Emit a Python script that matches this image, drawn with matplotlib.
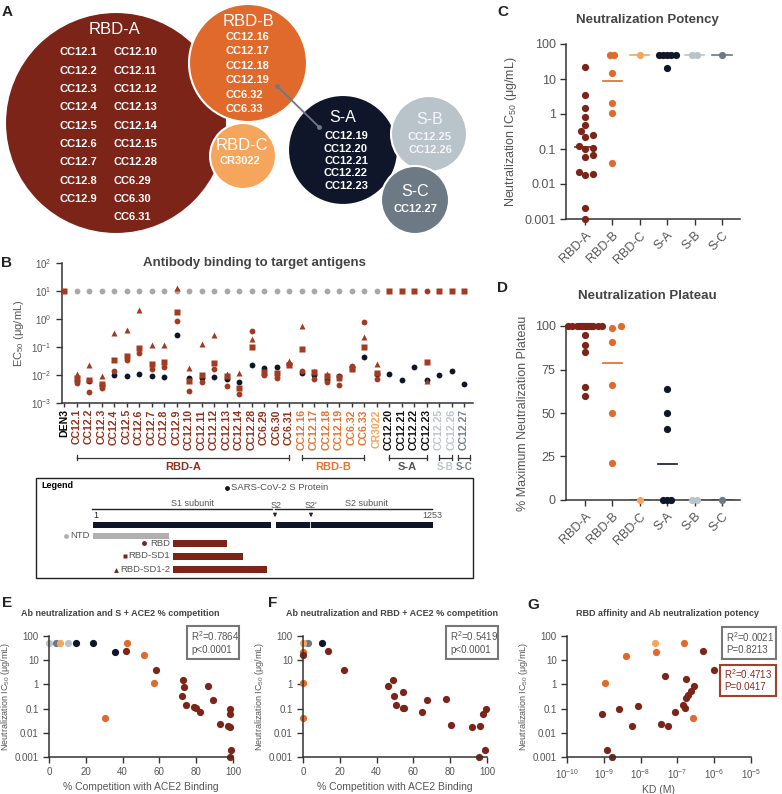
import numpy as np
import matplotlib
matplotlib.use('Agg')
import matplotlib.pyplot as plt
from matplotlib.patches import Circle, Rectangle
from matplotlib.ticker import FixedLocator, NullLocator
from matplotlib.transforms import blended_transform_factory

plt.rcParams['font.family'] = ['Liberation Sans', 'DejaVu Sans']
plt.rcParams['mathtext.fontset'] = 'custom'
plt.rcParams['mathtext.rm'] = 'Liberation Sans'
plt.rcParams['mathtext.it'] = 'Liberation Sans:italic'
plt.rcParams['mathtext.bf'] = 'Liberation Sans:bold'

W, H = 782, 794

# colours
c_rbda = '#7b2417'
c_rbdb = '#df6a2b'
c_rbdc = '#f5a65c'
c_sa = '#10162a'
c_sb = '#b9c3ca'
c_sc = '#6d7984'
c_ntd = '#a8a8a8'
c_red = '#a33a22'
grey_txt = '#555555'
title_col = '#444444'

# ---------------- data ----------------
# panel A: epitope bins
a_rbda = ['CC12.1', 'CC12.2', 'CC12.3', 'CC12.4', 'CC12.5', 'CC12.6', 'CC12.7', 'CC12.8', 'CC12.9',
          'CC12.10', 'CC12.11', 'CC12.12', 'CC12.13', 'CC12.14', 'CC12.15', 'CC12.28', 'CC6.29', 'CC6.30', 'CC6.31']
a_rbdb = ['CC12.16', 'CC12.17', 'CC12.18', 'CC12.19', 'CC6.32', 'CC6.33']
a_rbdc = ['CR3022']
a_sa = ['CC12.19', 'CC12.20', 'CC12.21', 'CC12.22', 'CC12.23']
a_sb = ['CC12.25', 'CC12.26']
a_sc = ['CC12.27']

# panel B: EC50 (ug/mL)
b_labels = ['DEN3', 'CC12.1', 'CC12.2', 'CC12.3', 'CC12.4', 'CC12.5', 'CC12.6', 'CC12.7', 'CC12.8',
            'CC12.9', 'CC12.10', 'CC12.11', 'CC12.12', 'CC12.13', 'CC12.14', 'CC12.28', 'CC6.29',
            'CC6.30', 'CC6.31', 'CC12.16', 'CC12.17', 'CC12.18', 'CC12.19', 'CC6.32', 'CC6.33',
            'CR3022', 'CC12.20', 'CC12.21', 'CC12.22', 'CC12.23', 'CC12.25', 'CC12.26', 'CC12.27']
b_groups = ['ctrl'] + ['RBD-A'] * 18 + ['RBD-B'] * 6 + ['RBD-C'] + ['S-A'] * 4 + ['S-B'] * 2 + ['S-C']
nan = np.nan
b_spike = [nan, 0.0063, 0.0062, 0.0045, 0.0098, 0.0095, 0.011, 0.0089, 0.0085, 0.27, 0.0076, 0.008,
           0.0083, 0.007, 0.0055, 0.023, 0.018, 0.02, 0.024, 0.0115, 0.01, 0.0066, 0.0091, 0.019,
           0.045, 0.011, 0.0105, 0.0066, 0.0186, 0.0066, 0.0098, 0.014, 0.0047]
b_rbd = [nan, 0.005, 0.0025, 0.0035, 0.014, 0.035, 0.059, 0.017, 0.02, 0.85, 0.0026, 0.0054, 0.017,
         0.0042, 0.0021, 0.37, 0.01, 0.0076, 0.025, 0.014, 0.0072, 0.0054, 0.0044, 0.021, 0.78,
         0.0072, nan, nan, nan, 10, nan, nan, nan]
b_sd1 = [10, 0.008, 0.0066, 0.0047, 0.035, 0.048, 0.089, 0.024, 0.028, 1.8, 0.0062, 0.01, 0.026,
         0.0095, 0.0035, 0.1, 0.013, 0.0115, 0.022, 0.085, 0.013, 0.0095, 0.0087, 0.017, 0.1,
         0.012, 10, 10, 10, 0.029, 10, 10, 10]
b_sd12 = [nan, 0.0105, 0.023, 0.0095, 0.32, 0.4, 2.1, 0.12, 0.115, 12.6, 0.018, 0.126, 0.275,
          0.011, 0.012, 0.19, 0.0126, 0.01, 0.032, 0.56, 0.014, 0.011, 0.008, 0.019, 0.22,
          0.025, nan, nan, nan, 0.0062, nan, nan, nan]
b_ntd = [nan] + [10] * 25 + [nan] * 7

# panels C/D
groups = ['RBD-A', 'RBD-B', 'RBD-C', 'S-A', 'S-B', 'S-C']
c_ic50 = {
    'RBD-A': [22, 3.5, 1.45, 0.8, 0.49, 0.32, 0.25, 0.22, 0.12, 0.11, 0.1, 0.068, 0.06,
              0.022, 0.019, 0.018, 0.002, 0.001],
    'RBD-B': [50, 50, 15, 2.0, 1.05, 0.039],
    'RBD-C': [50],
    'S-A': [50, 50, 50, 50, 50, 21],
    'S-B': [50, 50],
    'S-C': [50],
}
d_plateau = {
    'RBD-A': [100] * 13 + [95, 89, 85, 65, 60],
    'RBD-B': [99, 100, 91, 66, 50, 21],
    'RBD-C': [0],
    'S-A': [64, 50, 41, 0, 0, 0],
    'S-B': [0, 0],
    'S-C': [0],
}
group_col = {'ctrl': 'black', 'RBD-A': c_rbda, 'RBD-B': c_rbdb, 'RBD-C': c_rbdc,
             'S-A': c_sa, 'S-B': c_sb, 'S-C': c_sc}
tick_col = {'ctrl': 'black', 'RBD-A': '#92301c', 'RBD-B': '#e8722e', 'RBD-C': '#f6a35a',
            'S-A': '#111111', 'S-B': '#bcc4cc', 'S-C': '#74808a'}

# panel E: % competition (S + ACE2) vs IC50
e_x = {'S-B': [0, 10.3], 'S-C': [4], 'RBD-C': [6], 'S-A': [14.9, 23.9, 35.7],
       'RBD-B': [42.6, 51.6, 57.2, 30.3],
       'RBD-A': [42, 58, 72.8, 73.2, 72.5, 74.6, 78.6, 79.7, 81.9, 86.6, 89.1, 93.1, 98.2, 98.2,
                 97.3, 98.6, 99.1, 98.2]}
e_y = {'S-B': [50, 50], 'S-C': [50], 'RBD-C': [50], 'S-A': [50, 50, 22],
       'RBD-B': [50, 17, 1.15, 0.042],
       'RBD-A': [23, 4.0, 1.5, 0.8, 0.33, 0.14, 0.12, 0.11, 0.07, 0.85, 0.23, 0.024, 0.1, 0.06,
                 0.019, 0.018, 0.002, 0.001]}

# panel F: % competition (RBD + ACE2) vs IC50
f_x = {'S-B': [1.8], 'S-C': [2.7], 'S-A': [10.4], 'RBD-C': [0], 'RBD-B': [0, 0, 0],
       'RBD-A': [0, 13.6, 22.4, 46, 49.1, 49.5, 50.4, 54.2, 54.2, 55.1, 64.5, 67.6, 77.5, 80.7,
                 92, 96, 97.8, 99.5, 98.7, 95.5]}
f_y = {'S-B': [50], 'S-C': [50], 'S-A': [50], 'RBD-C': [50], 'RBD-B': [22, 1.1, 0.04],
       'RBD-A': [16, 23, 3.8, 0.85, 1.5, 0.33, 0.14, 0.5, 0.11, 0.105, 0.07, 0.23, 0.26, 0.022,
                 0.018, 0.019, 0.06, 0.1, 0.002, 0.001]}

# panel G: KD vs IC50
g_x = {'RBD-C': [2.45e-8], 'RBD-B': [1.55e-7, 2.7e-8, 3.9e-9, 1.1e-9, 2.6e-7],
       'RBD-A': [4.9e-7, 9.8e-7, 4.5e-8, 1.7e-7, 2.75e-7, 2.4e-7, 2.0e-7, 1.75e-7, 1.4e-7,
                 1.65e-7, 8.5e-9, 2.6e-9, 8.9e-10, 8.5e-8, 3.5e-8, 5.4e-8, 6.0e-9, 1.2e-9, 1.7e-9]}
g_y = {'RBD-C': [50], 'RBD-B': [50, 22, 15, 1.1, 0.04],
       'RBD-A': [24.5, 4.0, 2.2, 1.6, 0.85, 0.54, 0.36, 0.28, 0.135, 0.11, 0.13, 0.1, 0.062,
                 0.07, 0.023, 0.019, 0.0195, 0.002, 0.001]}

ic_ticks = [0.001, 0.01, 0.1, 1, 10, 100]
ic_labels = ['0.001', '0.01', '0.1', '1', '10', '100']
ic_ylabel = 'Neutralization IC$_{50}$ (\u03bcg/mL)'

fig = plt.figure(figsize=(W / 100, H / 100), dpi=100)


def px_axes(x0, y0, x1, y1):
    return fig.add_axes([x0 / W, 1 - y1 / H, (x1 - x0) / W, (y1 - y0) / H])


def style(ax, fs=7):
    for s in ['top', 'right']:
        ax.spines[s].set_visible(False)
    for s in ['left', 'bottom']:
        ax.spines[s].set_color('#333333')
        ax.spines[s].set_linewidth(1.1)
    ax.tick_params(colors='#333333', labelcolor=grey_txt, labelsize=fs, width=1.0, length=4)
    ax.set_facecolor('none')


def log_ic_axis(ax, fs=7):
    ax.set_yscale('log')
    ax.set_ylim(1e-3, 100)
    ax.yaxis.set_major_locator(FixedLocator(ic_ticks))
    ax.set_yticklabels(ic_labels)
    ax.yaxis.set_minor_locator(NullLocator())


def swarm(ax, xpos, vals, diam=7.0, maxw=17.0):
    # simple beeswarm: offsets in pixels, returned in data units
    vals = np.asarray(vals, float)
    pts = ax.transData.transform(np.column_stack([np.full(len(vals), xpos), vals]))
    ys = pts[:, 1]
    unit = ax.transData.transform((xpos + 1, vals[0]))[0] - pts[0, 0]
    step = diam * 0.3
    cands = [0.0]
    k = 1
    while k * step <= maxw:
        cands += [k * step, -k * step]
        k += 1
    placed = []
    offs = np.zeros(len(vals))
    for i in np.argsort(ys):
        best, bestd = 0.0, -1.0
        for c in cands:
            ok = True
            dmin = 1e9
            for px, py in placed:
                d = np.hypot(c - px, ys[i] - py)
                thr = diam * 0.55 if abs(ys[i] - py) < 0.5 else diam * 0.95
                if d < thr:
                    ok = False
                dmin = min(dmin, d)
            if ok:
                best = c
                break
            if dmin > bestd:
                best, bestd = c, dmin
        placed.append((best, ys[i]))
        offs[i] = best
    for v in np.unique(vals):
        m = vals == v
        if m.sum() > 1:
            offs[m] -= offs[m].mean()
    return xpos + offs / unit


# ---------------- panel B ----------------
axb = px_axes(62, 263, 473, 403)
style(axb, 7)
xs = np.arange(len(b_labels))
axb.set_yscale('log')
axb.set_ylim(1e-3, 1e2)
axb.set_xlim(-0.16, 32.72)
axb.plot(xs, b_ntd, 'o', color=c_ntd, ms=4.2, mec='none', clip_on=False, zorder=2)
axb.plot(xs, b_spike, 'o', color=c_sa, ms=4.2, mec='none', zorder=3)
axb.plot(xs, b_rbd, 'o', color=c_red, ms=4.2, mec='none', zorder=4)
axb.plot(xs, b_sd1, 's', color=c_red, ms=3.8, mec='none', zorder=5, clip_on=False)
axb.plot(xs, b_sd12, '^', color=c_red, ms=4.2, mec='none', zorder=6, clip_on=False)
axb.set_xticks(xs)
axb.set_xticklabels(b_labels, rotation=90, fontweight='bold', fontsize=7.6)
for lab, g in zip(axb.get_xticklabels(), b_groups):
    lab.set_color(tick_col[g])
axb.tick_params(axis='x', length=3, pad=1.5)
axb.yaxis.set_major_locator(FixedLocator([1e-3, 1e-2, 1e-1, 1, 10, 100]))
axb.set_yticklabels(['$10^{-3}$', '$10^{-2}$', '$10^{-1}$', '$10^{0}$', '$10^{1}$', '$10^{2}$'])
axb.yaxis.set_minor_locator(NullLocator())
axb.set_ylabel('EC$_{50}$ (\u03bcg/mL)', fontsize=8, color=grey_txt, labelpad=4)

tr = blended_transform_factory(axb.transData, axb.transAxes)
brackets = [('RBD-A', 1, 18, '#92301c', 8), ('RBD-B', 19, 24, '#e8722e', 8),
            ('S-A', 26, 29, '#555555', 8), ('S-B', 30, 31, '#bcc4cc', 7),
            ('S-C', 32, 32, '#74808a', 7)]
yb = -0.39
for name, i0, i1, col, fs in brackets:
    a0, a1 = (i0, i1) if i1 > i0 else (i0 - 0.45, i1 + 0.45)
    axb.plot([a0, a1], [yb, yb], color='#333333', lw=0.9, transform=tr, clip_on=False)
    for a in (a0, a1):
        axb.plot([a, a], [yb - 0.02, yb + 0.02], color='#333333', lw=0.9, transform=tr, clip_on=False)
    axb.text((i0 + i1) / 2, yb - 0.065, name, transform=tr, ha='center', va='center',
             fontsize=fs, fontweight='bold', color=col)

# ---------------- panel C ----------------
axc = px_axes(566, 44, 740, 219)
style(axc, 9)
axc.set_xlim(-0.69, 5.66)
log_ic_axis(axc)
axc.tick_params(axis='y', labelsize=9)
for i, g in enumerate(groups):
    v = c_ic50[g]
    med = np.median(v)
    axc.plot([i - 0.35, i + 0.35], [med, med], color=group_col[g], lw=1.2, zorder=2)
    xx = swarm(axc, i, v)
    axc.plot(xx, v, 'o', color=group_col[g], ms=5.2, mec='none', clip_on=False, zorder=3)
axc.set_xticks(range(len(groups)))
axc.set_xticklabels(groups, rotation=45, ha='right', rotation_mode='anchor', fontsize=9)
axc.set_ylabel(ic_ylabel, fontsize=9, color=grey_txt)

# ---------------- panel D ----------------
axd = px_axes(566, 326, 740, 500)
style(axd, 9)
axd.set_xlim(-0.69, 5.66)
axd.set_ylim(0, 100)
axd.set_yticks([0, 25, 50, 75, 100])
for i, g in enumerate(groups):
    v = d_plateau[g]
    med = np.median(v)
    axd.plot([i - 0.35, i + 0.35], [med, med], color=group_col[g], lw=1.2, zorder=2)
    xx = swarm(axd, i, v)
    axd.plot(xx, v, 'o', color=group_col[g], ms=5.2, mec='none', clip_on=False, zorder=3)
axd.set_xticks(range(len(groups)))
axd.set_xticklabels(groups, rotation=45, ha='right', rotation_mode='anchor', fontsize=9)
axd.set_ylabel('% Maximum Neutralization Plateau', fontsize=9, color=grey_txt)


# ---------------- panels E, F, G ----------------
def scatter_panel(ax, xd, yd):
    for g in ['S-B', 'S-C', 'RBD-C', 'S-A', 'RBD-B', 'RBD-A']:
        if g in xd:
            ax.plot(xd[g], yd[g], 'o', color=group_col[g], ms=5.2, mec='none', clip_on=False)


axe = px_axes(49, 636, 233, 757)
style(axe, 7)
axe.set_xlim(0, 100)
axe.set_xticks(range(0, 101, 20))
log_ic_axis(axe)
scatter_panel(axe, e_x, e_y)
axe.set_xlabel('% Competition with ACE2 Binding', fontsize=7.5, color=grey_txt, labelpad=3)
axe.set_ylabel(ic_ylabel, fontsize=6.5, color=grey_txt, labelpad=2)

axf = px_axes(303, 636, 487, 757)
style(axf, 7)
axf.set_xlim(0, 100)
axf.set_xticks(range(0, 101, 20))
log_ic_axis(axf)
scatter_panel(axf, f_x, f_y)
axf.set_xlabel('% Competition with ACE2 Binding', fontsize=7.5, color=grey_txt, labelpad=3)
axf.set_ylabel(ic_ylabel, fontsize=6.5, color=grey_txt, labelpad=2)

axg = px_axes(567, 636, 751, 757)
style(axg, 7)
axg.set_xscale('log')
axg.set_xlim(1e-10, 1e-5)
axg.xaxis.set_major_locator(FixedLocator([1e-10, 1e-9, 1e-8, 1e-7, 1e-6, 1e-5]))
axg.set_xticklabels(['$10^{-10}$', '$10^{-9}$', '$10^{-8}$', '$10^{-7}$', '$10^{-6}$', '$10^{-5}$'])
axg.xaxis.set_minor_locator(NullLocator())
log_ic_axis(axg)
scatter_panel(axg, g_x, g_y)
axg.set_xlabel('KD (M)', fontsize=7.5, color=grey_txt, labelpad=3)
axg.set_ylabel(ic_ylabel, fontsize=6.5, color=grey_txt, labelpad=2)

# ---------------- overlay: diagrams, legend, titles ----------------
ov = fig.add_axes([0, 0, 1, 1])
ov.set_xlim(0, W)
ov.set_ylim(H, 0)
ov.axis('off')
ov.patch.set_alpha(0)

circles = [(116, 123, 111, c_rbda), (243, 156, 33, c_rbdc), (248, 63, 59, c_rbdb),
           (343, 150, 55, c_sa), (429, 134, 38, c_sb), (415, 200, 34, c_sc)]
for cx, cy, r, col in circles:
    ov.add_patch(Circle((cx, cy), r, facecolor=col, edgecolor='white', lw=1.5))

tkw = dict(color='white', fontweight='bold', fontsize=8, va='center')
ov.text(115, 29, 'RBD-A', color='white', fontsize=12, ha='center', va='center')
rows_y = [52, 71, 89, 107, 126, 144, 162, 181, 199, 217]
col1 = a_rbda[:9]
col2 = a_rbda[9:]
for j, name in enumerate(col1):
    ov.text(59, rows_y[j], name, ha='left', **tkw)
for j, name in enumerate(col2):
    ov.text(114, rows_y[j], name, ha='left', **tkw)

ov.text(248, 22, 'RBD-B', color='white', fontsize=12, ha='center', va='center')
for j, name in enumerate(a_rbdb):
    ov.text(225, 37 + j * 14.4, name, ha='left', **tkw)
ov.text(242, 145, 'RBD-C', color='white', fontsize=12, ha='center', va='center')
ov.text(240, 161, a_rbdc[0], ha='center', **tkw)

ov.text(343, 118, 'S-A', color='white', fontsize=11.5, ha='center', va='center')
for j, name in enumerate(a_sa):
    ov.text(346, 136 + j * 12.5, name, ha='center', **tkw)
ov.text(430, 120, 'S-B', color='#f4f6f8', fontsize=11.5, ha='center', va='center')
for j, name in enumerate(a_sb):
    ov.text(430, 137 + j * 13, name, ha='center', color='#f4f6f8', fontweight='bold',
            fontsize=8, va='center')
ov.text(415, 192, 'S-C', color='white', fontsize=11.5, ha='center', va='center')
ov.text(415, 209, a_sc[0], ha='center', **tkw)

ov.plot([277, 319], [86, 127], color='#6b7a85', lw=1.3)
ov.plot([277, 319], [86, 127], 'o', color='#6b7a85', ms=3.5, mec='none')

# legend box for panel B
ov.add_patch(Rectangle((36, 478), 437, 100, fill=False, ec='#222222', lw=1.0))
ov.text(41, 486, 'Legend', fontsize=6.5, fontweight='bold', va='center', ha='left')
ov.plot(227, 487.5, 'o', color=c_sa, ms=3.5, mec='none')
ov.text(231, 487.5, 'SARS-CoV-2 S Protein', fontsize=6.8, color=grey_txt, va='center')
ov.plot([92, 272], [509, 509], color='#222222', lw=1.0)
ov.plot([275, 432], [509, 509], color='#222222', lw=1.0)
ov.text(192, 503, 'S1 subunit', fontsize=6.5, color=grey_txt, ha='center', va='center')
ov.text(366, 503, 'S2 subunit', fontsize=6.5, color=grey_txt, ha='center', va='center')
ov.text(276, 505, 'S2', fontsize=6.5, color=grey_txt, ha='center', va='center')
ov.text(311, 505, "S2'", fontsize=6.5, color=grey_txt, ha='center', va='center')
ov.text(93, 516, '1', fontsize=6.5, color='#222222', ha='left', va='center')
ov.text(432, 516, '1253', fontsize=6.5, color=grey_txt, ha='center', va='center')
for ax_x in (275, 311):
    ov.annotate('', xy=(ax_x, 520), xytext=(ax_x, 511),
                arrowprops=dict(arrowstyle='-|>', color='#222222', lw=0.8, mutation_scale=5))
ov.add_patch(Rectangle((93, 522), 178, 6, color=c_sa, lw=0))
ov.add_patch(Rectangle((276, 522), 157, 6, color=c_sa, lw=0))
ov.plot([310, 310], [522, 528], color='white', lw=0.6)
ov.add_patch(Rectangle((93, 533), 76, 6, color='#b0b0b0', lw=0))
ov.add_patch(Rectangle((173, 540), 54, 6.5, color=c_rbda, lw=0))
ov.add_patch(Rectangle((173, 553), 70, 6.5, color=c_rbda, lw=0))
ov.add_patch(Rectangle((173, 566), 94, 6.5, color=c_rbda, lw=0))
ov.plot(66, 536, 'o', color='#b0b0b0', ms=3.5, mec='none')
ov.text(90, 536, 'NTD', fontsize=6.8, color=grey_txt, ha='right', va='center')
ov.plot(144, 543, 'o', color=c_rbda, ms=3.5, mec='none')
ov.text(170, 543, 'RBD', fontsize=6.8, color=grey_txt, ha='right', va='center')
ov.plot(125, 556, 's', color=c_rbda, ms=3.2, mec='none')
ov.text(170, 556, 'RBD-SD1', fontsize=6.8, color=grey_txt, ha='right', va='center')
ov.plot(116, 570, '^', color=c_rbda, ms=3.5, mec='none')
ov.text(170, 569, 'RBD-SD1-2', fontsize=6.8, color=grey_txt, ha='right', va='center')

# titles
ov.text(254, 263, 'Antibody binding to target antigens', fontsize=9.5, fontweight='bold',
        color=title_col, ha='center', va='center')
ov.text(647, 20, 'Neutralization Potency', fontsize=9.5, fontweight='bold',
        color=title_col, ha='center', va='center')
ov.text(647, 296, 'Neutralization Plateau', fontsize=9.5, fontweight='bold',
        color=title_col, ha='center', va='center')
ov.text(21, 613, 'Ab neutralization and S + ACE2 % competition', fontsize=6.5, fontweight='bold',
        color=title_col, ha='left', va='center')
ov.text(286, 613, 'Ab neutralization and RBD + ACE2 % competition', fontsize=6.5,
        fontweight='bold', color=title_col, ha='left', va='center')
ov.text(667, 613, 'RBD affinity and Ab neutralization potency', fontsize=6.5, fontweight='bold',
        color=title_col, ha='center', va='center')

# stats boxes
stat_boxes = [(187, 626, 52, 33, '#777777', grey_txt, ['R$^2$=0.7864', 'p<0.0001']),
              (446, 626, 52, 33, '#777777', grey_txt, ['R$^2$=0.5419', 'p<0.0001']),
              (722, 627, 54, 32, '#777777', grey_txt, ['R$^2$=0.0021', 'P=0.8213']),
              (720, 665, 56, 31, '#a0412c', '#8b2a1a', ['R$^2$=0.4713', 'P=0.0417'])]
for bx, by, bw, bh, ec, tc, lines in stat_boxes:
    ov.add_patch(Rectangle((bx, by), bw, bh, fill=False, ec=ec, lw=1.5))
    ov.text(bx + 4, by + bh * 0.3, lines[0], fontsize=7, color=tc, va='center', ha='left')
    ov.text(bx + 4, by + bh * 0.72, lines[1], fontsize=7, color=tc, va='center', ha='left')

# panel letters
for lab, lx, ly in [('A', 7, 12), ('B', 7, 263), ('C', 503, 12), ('D', 503, 288),
                    ('E', 7, 603), ('F', 273, 603), ('G', 533, 605)]:
    ov.text(lx, ly, lab, fontsize=11, fontweight='bold', color='#222222', ha='center', va='center')

fig.savefig('out.png', dpi=100)
